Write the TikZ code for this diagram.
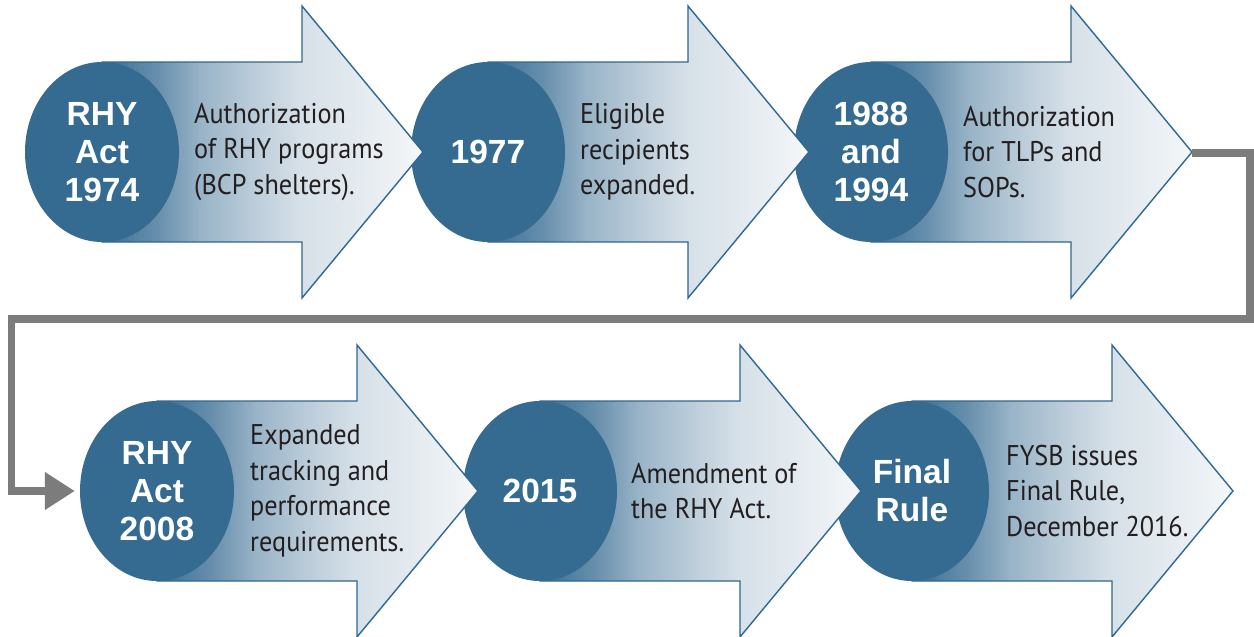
\documentclass[tikz,border=0pt]{standalone}
\usepackage{fontspec}
\usetikzlibrary{shapes.geometric,arrows.meta}
\newfontfamily\yearfont{Liberation Sans}
\newfontfamily\descfont[FakeStretch=0.92]{PT Sans}

\definecolor{disc}{HTML}{356B91}
\definecolor{rim}{HTML}{2F6890}
\definecolor{link}{HTML}{7C7C7C}
\definecolor{ink}{HTML}{231F20}
\definecolor{sha}{HTML}{4F7FA1}
\definecolor{shb}{HTML}{6A91AE}
\definecolor{shc}{HTML}{98B3C7}
\definecolor{shd}{HTML}{B9CBD8}
\definecolor{she}{HTML}{D6E0E8}
\definecolor{shf}{HTML}{EEF2F5}
\definecolor{shg}{HTML}{F6F8FA}

\tikzset{
  rimline/.style={draw=rim, line width=1.4pt, line join=miter},
  disc/.style={ellipse, fill=disc, minimum width=154pt, minimum height=180pt,
    inner sep=0pt, text=white, align=center,
    font=\yearfont\bfseries\fontsize{33.5}{38}\selectfont},
  desc/.style={anchor=west, inner sep=0pt, align=left, text=ink,
    font=\descfont\fontsize{28.5}{35.5}\selectfont},
  flow/.style={draw=link, line width=7.5pt, line join=miter,
    -{Triangle[length=30pt,width=36pt]}}
}

% outline of an arrow body whose shaft starts at the disc centre (#1,#2)
\newcommand{\arrowpath}[2]{(#1,#2-90) -- (#1+200,#2-90) -- (#1+200,#2-146)
    -- (#1+321,#2) -- (#1+200,#2+146) -- (#1+200,#2+90) -- (#1,#2+90) -- cycle}

% one band of the fill: from offset #3 to #4 with colours #5 to #6
\newcommand{\band}[6]{%
  \shade[left color=#5, right color=#6] (#1+#3-0.5,#2-150) rectangle (#1+#4+0.5,#2+150);}

\newcommand{\tlarrow}[2]{%
  \begin{scope}
    \clip \arrowpath{#1}{#2};
    \band{#1}{#2}{0}{28}{disc}{sha}
    \band{#1}{#2}{28}{58}{sha}{shb}
    \band{#1}{#2}{58}{98}{shb}{shc}
    \band{#1}{#2}{98}{148}{shc}{shd}
    \band{#1}{#2}{148}{198}{shd}{she}
    \band{#1}{#2}{198}{298}{she}{shf}
    \band{#1}{#2}{298}{322}{shf}{shg}
  \end{scope}
  \path[rimline] \arrowpath{#1}{#2};}

\begin{document}
\begin{tikzpicture}[x=1pt,y=-1pt]
\useasboundingbox[fill=white] (0,0) rectangle (1254,637);

% upper row, drawn right to left so each tip lies over the next disc
\tlarrow{871}{152}
\node[disc] (c3) at (871,152) {1988\\and\\1994};
\node[desc] (d3) at (963,152) {Authorization\\for TLPs and\\SOPs.};
\tlarrow{488}{152}
\node[disc] (c2) at (488,152) {1977};
\node[desc] (d2) at (580,152) {Eligible\\recipients\\expanded.};
\tlarrow{102}{152}
\node[disc] (c1) at (102,152) {RHY\\Act\\1974};
\node[desc] (d1) at (194,152) {Authorization\\of RHY programs\\(BCP shelters).};

% lower row
\tlarrow{912}{491}
\node[disc] (c6) at (912,491) {Final\\Rule};
\node[desc] (d6) at (1006,491) {FYSB issues\\Final Rule,\\December 2016.};
\tlarrow{540}{491}
\node[disc] (c5) at (540,491) {2015};
\node[desc] (d5) at (631,491) {Amendment of\\the RHY Act.};
\tlarrow{157}{491}
\node[disc] (c4) at (157,491) {RHY\\Act\\2008};
\node[desc] (d4) at (250,491) {Expanded\\tracking and\\performance\\requirements.};

% connector from the end of the upper row to the start of the lower row
\coordinate (t3) at (1192,153);
\coordinate (r1) at (1250,153);
\coordinate (r2) at (1250,319);
\coordinate (l1) at (11.5,319);
\coordinate (l2) at (11.5,491);
\draw[flow, shorten >=5pt] (t3) -- (r1) -- (r2) -- (l1) -- (l2) -- (c4.west);
\end{tikzpicture}
\end{document}
